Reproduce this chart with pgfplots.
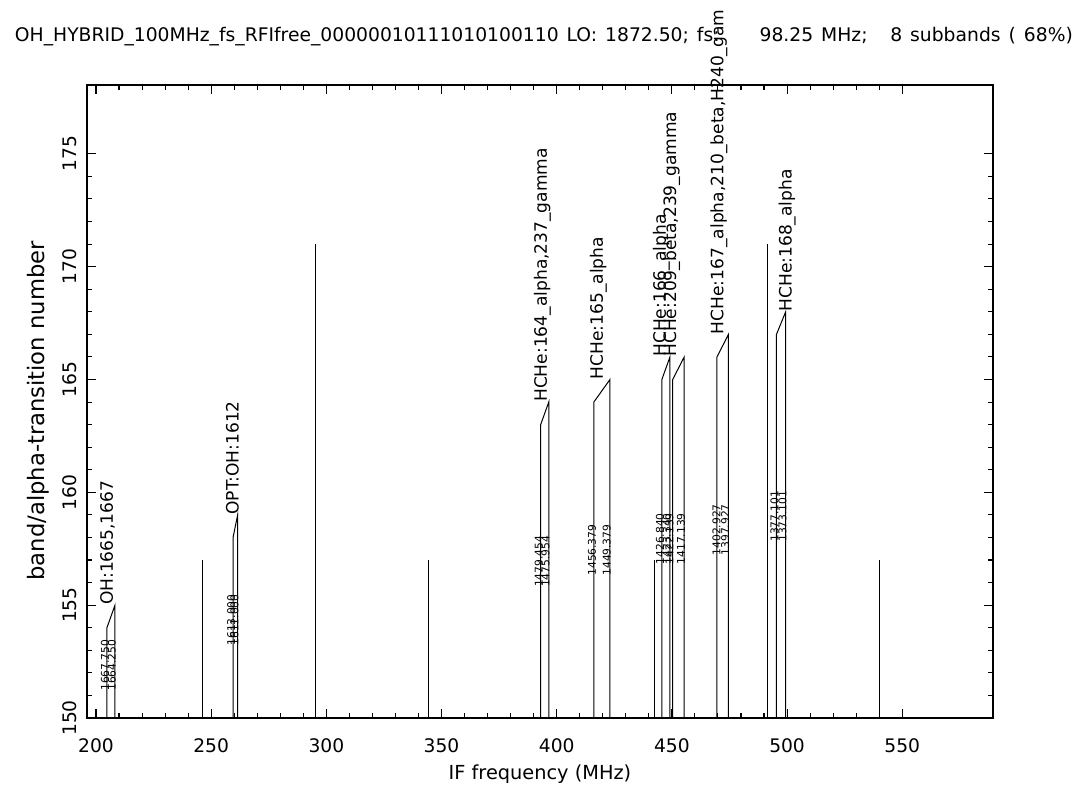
\documentclass[border=0pt]{standalone}
\usepackage{fontspec}
\setmainfont{DejaVu Sans}
\usepackage{pgfplots}
\pgfplotsset{compat=1.18}
\begin{document}
\begin{tikzpicture}[
  bigl/.style={font=\fontsize{12.8}{15}\selectfont, inner sep=0pt, anchor=base west},
  smalll/.style={font=\fontsize{8}{9}\selectfont, inner sep=0pt, anchor=base west},
]
\begin{axis}[
  at={(0pt,0pt)}, anchor=south west,
  scale only axis, width=679.5pt, height=474.75pt,
  xmin=196.1, xmax=589.4, ymin=150, ymax=178.05,
  xtick={200,250,...,550}, minor x tick num=4,
  ytick={150,155,...,175}, minor y tick num=4,
  tick pos=both, tick align=inside,
  xticklabel pos=lower, yticklabel pos=left,
  major tick length=6.75pt, minor tick length=3.75pt,
  every tick/.style={black, line width=0.8pt},
  axis line style={line width=1pt},
  /pgf/number format/assume math mode=true,
  /pgf/number format/1000 sep={},
  ticklabel style={font=\fontsize{14}{16}\selectfont},
  xticklabel style={anchor=base, yshift=-26pt},
  yticklabel style={xshift=-7.5pt, rotate=90, anchor=base},
  every axis x label/.style={at={(axis description cs:0.5,0)}, anchor=base, yshift=-46.5pt, font=\fontsize{14.5}{17}\selectfont},
  every axis y label/.style={at={(axis description cs:0,0.5)}, xshift=-32pt, yshift=-7pt, rotate=90, anchor=base, font=\fontsize{17}{19}\selectfont},
  title style={font=\fontsize{14.05}{16}\selectfont, at={(0.5,1)}, anchor=base, yshift=26.25pt, xshift=3pt},
  title={OH\_HYBRID\_100MHz\_fs\_RFIfree\_00000010111010100110\hspace{6pt}LO:\hspace{6pt}1872.50;\hspace{6pt}fs:\hspace{30pt}98.25\hspace{6pt}MHz;\hspace{17pt}8\hspace{6pt}subbands\hspace{6pt}(\hspace{6pt}68\%)},
  xlabel={IF frequency (MHz)},
  ylabel={band/alpha-transition number},
  clip=false,
]
% single subband-edge lines
\addplot[black, line width=0.75pt] coordinates {(246.1,150) (246.1,157)};
\addplot[black, line width=0.75pt] coordinates {(295.2,150) (295.2,171)};
\addplot[black, line width=0.75pt] coordinates {(344.3,150) (344.3,157)};
\addplot[black, line width=0.75pt] coordinates {(442.3,150) (442.3,157)};
\addplot[black, line width=0.75pt] coordinates {(491.4,150) (491.4,171)};
\addplot[black, line width=0.75pt] coordinates {(540.2,150) (540.2,157)};
% transition pairs
\addplot[black, line width=0.75pt] coordinates {(204.75,150) (204.75,154) (208.25,155) (208.25,150)};
\addplot[black, line width=0.75pt] coordinates {(259.5,150) (259.5,158) (261.5,159) (261.5,150)};
\addplot[black, line width=0.75pt] coordinates {(393.046,150) (393.046,163) (396.546,164) (396.546,150)};
\addplot[black, line width=0.75pt] coordinates {(416.121,150) (416.121,164) (423.121,165) (423.121,150)};
\addplot[black, line width=0.75pt] coordinates {(445.66,150) (445.66,165) (449.16,166) (449.16,150)};
\addplot[black, line width=0.75pt] coordinates {(450.361,150) (450.361,165) (455.361,166) (455.361,150)};
\addplot[black, line width=0.75pt] coordinates {(469.573,150) (469.573,166) (474.573,167) (474.573,150)};
\addplot[black, line width=0.75pt] coordinates {(495.399,150) (495.399,167) (499.399,168) (499.399,150)};
% big labels
\node[bigl, xshift=-1.5pt, rotate=90] at (axis cs:208.25,155) {OH:1665,1667};
\node[bigl, xshift=0.75pt, rotate=90] at (axis cs:261.5,159) {OPT:OH:1612};
\node[bigl, xshift=-1.5pt, rotate=90] at (axis cs:396.546,164) {HCHe:164\_alpha,237\_gamma};
\node[bigl, xshift=-5.25pt, rotate=90] at (axis cs:423.121,165) {HCHe:165\_alpha};
\node[bigl, xshift=-3pt, rotate=90] at (axis cs:449.16,166) {HCHe:166\_alpha};
\node[bigl, xshift=-6pt, rotate=90] at (axis cs:455.361,166) {HCHe:209\_beta,239\_gamma};
\node[bigl, xshift=-3.75pt, rotate=90] at (axis cs:474.573,167) {HCHe:167\_alpha,210\_beta,H240\_gam};
\node[bigl, xshift=4.5pt, rotate=90] at (axis cs:499.399,168) {HCHe:168\_alpha};
% small frequency labels
\node[smalll, xshift=1.5pt, rotate=90] at (axis cs:204.75,151.2) {1667.750};
\node[smalll, xshift=0.5pt, rotate=90] at (axis cs:208.25,151.2) {1664.250};
\node[smalll, xshift=1.5pt, rotate=90] at (axis cs:259.5,153.2) {1613.000};
\node[smalll, xshift=0.5pt, rotate=90] at (axis cs:261.5,153.2) {1611.000};
\node[smalll, xshift=1.5pt, rotate=90] at (axis cs:393.046,155.8) {1479.454};
\node[smalll, xshift=0.5pt, rotate=90] at (axis cs:396.546,155.8) {1475.954};
\node[smalll, xshift=1.5pt, rotate=90] at (axis cs:416.121,156.3) {1456.379};
\node[smalll, xshift=0.5pt, rotate=90] at (axis cs:423.121,156.3) {1449.379};
\node[smalll, xshift=1.5pt, rotate=90] at (axis cs:445.66,156.8) {1426.840};
\node[smalll, xshift=0.5pt, rotate=90] at (axis cs:449.16,156.8) {1423.340};
\node[smalll, xshift=0.5pt, rotate=90] at (axis cs:450.361,156.8) {1422.139};
\node[smalll, xshift=0.5pt, rotate=90] at (axis cs:455.361,156.8) {1417.139};
\node[smalll, xshift=2.5pt, rotate=90] at (axis cs:469.573,157.2) {1402.927};
\node[smalll, xshift=0.5pt, rotate=90] at (axis cs:474.573,157.2) {1397.927};
\node[smalll, xshift=1.5pt, rotate=90] at (axis cs:495.399,157.8) {1377.101};
\node[smalll, xshift=0.5pt, rotate=90] at (axis cs:499.399,157.8) {1373.101};
\end{axis}
\pgfresetboundingbox
\path[use as bounding box] (-65.25pt,-52.5pt) rectangle (743.25pt,538.5pt);
\end{tikzpicture}
\end{document}
